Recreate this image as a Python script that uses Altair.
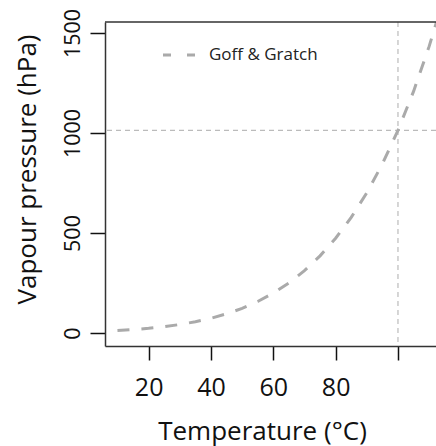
import altair as alt
import pandas as pd

# Saturation vapour pressure over water (Goff & Gratch), hPa
temperature_c = [10, 15, 20, 25, 30, 35, 40, 45, 50, 55, 60, 65, 70, 75,
                 80, 85, 90, 95, 100, 105, 110, 115]
pressure_hpa = [12.3, 17.0, 23.4, 31.7, 42.4, 56.2, 73.8, 95.8, 123.4, 157.5,
                199.3, 250.1, 311.8, 385.8, 473.8, 578.1, 701.3, 845.3,
                1013.3, 1208.1, 1433.1, 1691.0]

# Reference marks: boiling point and standard sea-level pressure
boiling_point_c = [100]
sea_level_hpa = [1013.25]

x_ticks = [20, 40, 60, 80, 100]
y_ticks = [0, 500, 1000, 1500]
legend_label = ["Goff & Gratch"]

FONT = "Open Sans"
W, H = 331, 324

df = pd.DataFrame({"t": temperature_c, "e": pressure_hpa})

x_scale = alt.Scale(domain=[6, 112.2], nice=False, zero=False)
y_scale = alt.Scale(domain=[-65, 1555], nice=False, zero=False)

curve = alt.Chart(df).mark_line(
    color="#aaaaaa", strokeWidth=3, strokeDash=[12, 12], clip=True
).encode(
    x=alt.X("t:Q", scale=x_scale, axis=alt.Axis(
        title="Temperature (°C)", values=x_ticks, format="d",
        labelExpr="datum.value == 100 ? '' : datum.label",
        grid=False, domainColor="#333333", domainWidth=1.5,
        tickColor="#111111", tickWidth=1.5, tickSize=14,
        labelFont=FONT, labelFontSize=25, labelColor="#111111",
        labelPadding=15, labelBaseline="top", labelFlush=False,
        titleFont=FONT, titleFontSize=26, titleFontWeight="normal",
        titleColor="#111111", titleX=157, titleY=85,
        titleBaseline="middle", titleAlign="center",
    )),
    y=alt.Y("e:Q", scale=y_scale, axis=alt.Axis(
        title="Vapour pressure (hPa)", values=y_ticks, format="d",
        grid=False, domainColor="#333333", domainWidth=1.5,
        tickColor="#111111", tickWidth=1.5, tickSize=15,
        labelFont=FONT, labelFontSize=21.5, labelColor="#111111",
        labelAngle=270, labelAlign="center", labelBaseline="bottom",
        labelPadding=6, labelFlush=False,
        titleFont=FONT, titleFontSize=26, titleFontWeight="normal",
        titleColor="#111111", titleAngle=270, titleX=-78, titleY=147,
        titleBaseline="middle", titleAlign="center",
    )),
)

vline = alt.Chart(pd.DataFrame({"t": boiling_point_c})).mark_rule(
    color="#bbbbbb", strokeWidth=1.2, strokeDash=[5, 4]
).encode(x=alt.X("t:Q", scale=x_scale))

hline = alt.Chart(pd.DataFrame({"e": sea_level_hpa})).mark_rule(
    color="#bbbbbb", strokeWidth=1.2, strokeDash=[5, 4]
).encode(y=alt.Y("e:Q", scale=y_scale))

# top edge of the plot box
top_edge = alt.Chart(pd.DataFrame({"k": [0]})).mark_rule(
    color="#333333", strokeWidth=1.5
).encode(x=alt.value(0), x2=alt.value(W), y=alt.value(0))

# legend key
legend_key = alt.Chart(pd.DataFrame({"k": [0]})).mark_rule(
    color="#aaaaaa", strokeWidth=3, strokeDash=[8, 16]
).encode(x=alt.value(58), x2=alt.value(90), y=alt.value(33))

legend_text = alt.Chart(pd.DataFrame({"label": legend_label})).mark_text(
    font=FONT, fontSize=17, color="#222222", align="left", baseline="middle"
).encode(x=alt.value(104), y=alt.value(33), text="label:N")

chart = alt.layer(hline, vline, curve, top_edge, legend_key, legend_text).properties(
    width=W, height=H,
    padding={"left": 105, "top": 22, "right": 0, "bottom": 100},
    autosize=alt.AutoSizeParams(type="none"),
    background="white",
).configure_view(stroke=None)

chart.save("out.html", embed_options={"renderer": "svg", "actions": False})
